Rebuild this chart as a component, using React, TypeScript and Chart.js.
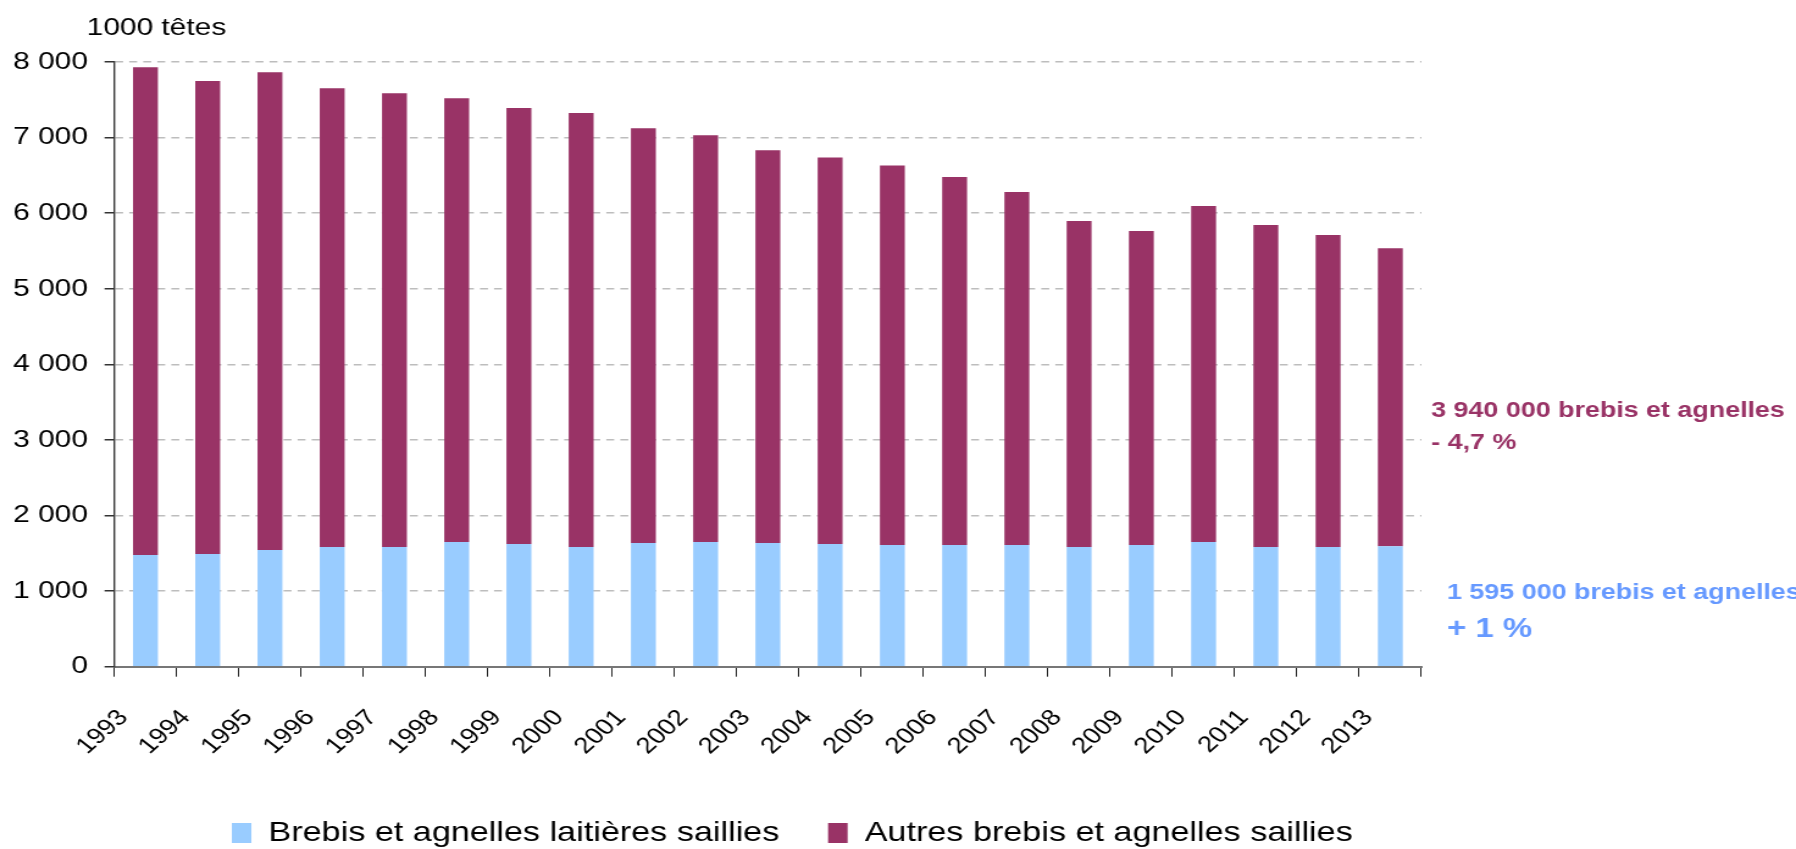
import React, { useEffect, useRef } from "react";
import { Chart, registerables } from "chart.js";

Chart.register(...registerables);

// ---- data ----
const years = [
  "1993", "1994", "1995", "1996", "1997", "1998", "1999", "2000", "2001", "2002", "2003",
  "2004", "2005", "2006", "2007", "2008", "2009", "2010", "2011", "2012", "2013",
];
const laitieres = [
  1477, 1490, 1543, 1583, 1583, 1649, 1623, 1583, 1636, 1649, 1636,
  1623, 1609, 1609, 1609, 1583, 1609, 1649, 1583, 1583, 1595,
];
const autres = [
  6455, 6257, 6323, 6071, 6005, 5873, 5767, 5741, 5489, 5383, 5198,
  5115, 5023, 4869, 4670, 4313, 4154, 4445, 4260, 4127, 3940,
];
const seriesNames = ["Brebis et agnelles laitières saillies", "Autres brebis et agnelles saillies"];
const unitLabel = "1000 têtes";
const noteAutres = ["3 940 000 brebis et agnelles", "- 4,7 %"];
const noteLaitieres = ["1 595 000 brebis et agnelles", "+ 1 %"];
const yMax = 8000;
const yStep = 1000;

// ---- styling ----
const PURPLE = "#993366";
const BLUE = "#99CCFF";
const BLUE_TEXT = "#6699FF";
const FONT = '"Liberation Sans", Arial, sans-serif';
const K = 1.22; // horizontal stretch of the picture
const W = Math.round(1796 / K);
const H = 849;

const fmt = (v: number) => {
  if (v === 0) return "0";
  const th = Math.floor(v / 1000);
  const rest = String(v % 1000).padStart(3, "0");
  return `${th} ${rest}`;
};

const legendShift = {
  id: "legendShift",
  afterLayout(chart: any) {
    const l = chart.legend;
    if (l) {
      l.left += 20;
      l.right += 20;
    }
  },
};

const notesPlugin = {
  id: "notes",
  afterDraw(chart: any) {
    const { ctx, chartArea } = chart;
    ctx.save();
    ctx.textAlign = "left";
    ctx.textBaseline = "alphabetic";
    ctx.fillStyle = "#000";
    ctx.font = `24.5px ${FONT}`;
    ctx.fillText(unitLabel, 71, 35);

    const x1 = chartArea.right + 8;
    ctx.fillStyle = PURPLE;
    ctx.font = `bold 22px ${FONT}`;
    ctx.fillText(noteAutres[0], x1, 417);
    ctx.fillText(noteAutres[1], x1, 449);

    const x2 = chartArea.right + 21;
    ctx.fillStyle = BLUE_TEXT;
    ctx.font = `bold 22px ${FONT}`;
    ctx.fillText(noteLaitieres[0], x2, 599);
    ctx.font = `bold 27px ${FONT}`;
    ctx.fillText(noteLaitieres[1], x2, 637);
    ctx.restore();
  },
};

export default function App() {
  const ref = useRef<HTMLCanvasElement | null>(null);

  useEffect(() => {
    const canvas = ref.current;
    if (!canvas) return;
    const chart = new Chart(canvas, {
      type: "bar",
      data: {
        labels: years,
        datasets: [
          {
            label: seriesNames[0],
            data: laitieres,
            backgroundColor: BLUE,
            borderWidth: 0,
            barPercentage: 0.4,
            categoryPercentage: 1,
          },
          {
            label: seriesNames[1],
            data: autres,
            backgroundColor: PURPLE,
            borderWidth: 0,
            barPercentage: 0.4,
            categoryPercentage: 1,
          },
        ],
      },
      options: {
        responsive: false,
        animation: false,
        devicePixelRatio: 1,
        layout: { padding: { top: 62, right: W - 1165, left: 0, bottom: 0 } },
        plugins: {
          tooltip: { enabled: false },
          title: { display: false },
          legend: {
            display: true,
            position: "bottom",
            fullSize: false,
            maxHeight: 70,
            labels: {
              boxWidth: 16,
              boxHeight: 20,
              padding: 40,
              color: "#000",
              font: { family: FONT, size: 28 },
            },
          },
        },
        scales: {
          x: {
            stacked: true,
            afterFit: (s: any) => {
              s.height = 112.3;
            },
            grid: {
              offset: true,
              drawOnChartArea: false,
              drawTicks: true,
              tickLength: 10,
              tickColor: "#222",
              tickWidth: 1,
            },
            border: { display: true, color: "#777", width: 2 },
            ticks: {
              color: "#000",
              font: { family: FONT, size: 22.5 },
              maxRotation: 47,
              minRotation: 47,
              padding: 28,
              labelOffset: -18,
              autoSkip: false,
            },
          },
          y: {
            stacked: true,
            min: 0,
            max: yMax,
            afterFit: (s: any) => {
              s.width = 93.7;
            },
            grid: {
              color: "#bdbdbd",
              lineWidth: 1.5,
              drawTicks: true,
              tickLength: 8,
              tickColor: "#333",
              tickWidth: 1.5,
              tickBorderDash: [],
            },
            border: { display: true, color: "#3a3a3a", width: 1.4, dash: [6.5, 5] },
            ticks: {
              stepSize: yStep,
              color: "#000",
              font: { family: FONT, size: 24.5 },
              padding: 13.6,
              callback: (v: any) => fmt(Number(v)),
            },
          },
        },
      },
      plugins: [notesPlugin, legendShift],
    } as any);
    return () => chart.destroy();
  }, []);

  return (
    <div style={{ position: "absolute", left: 0, top: 0, width: 1796, height: H, background: "#fff" }}>
      <canvas
        ref={ref}
        width={W}
        height={H}
        style={{ display: "block", width: "1796px", height: `${H}px` }}
      />
    </div>
  );
}
